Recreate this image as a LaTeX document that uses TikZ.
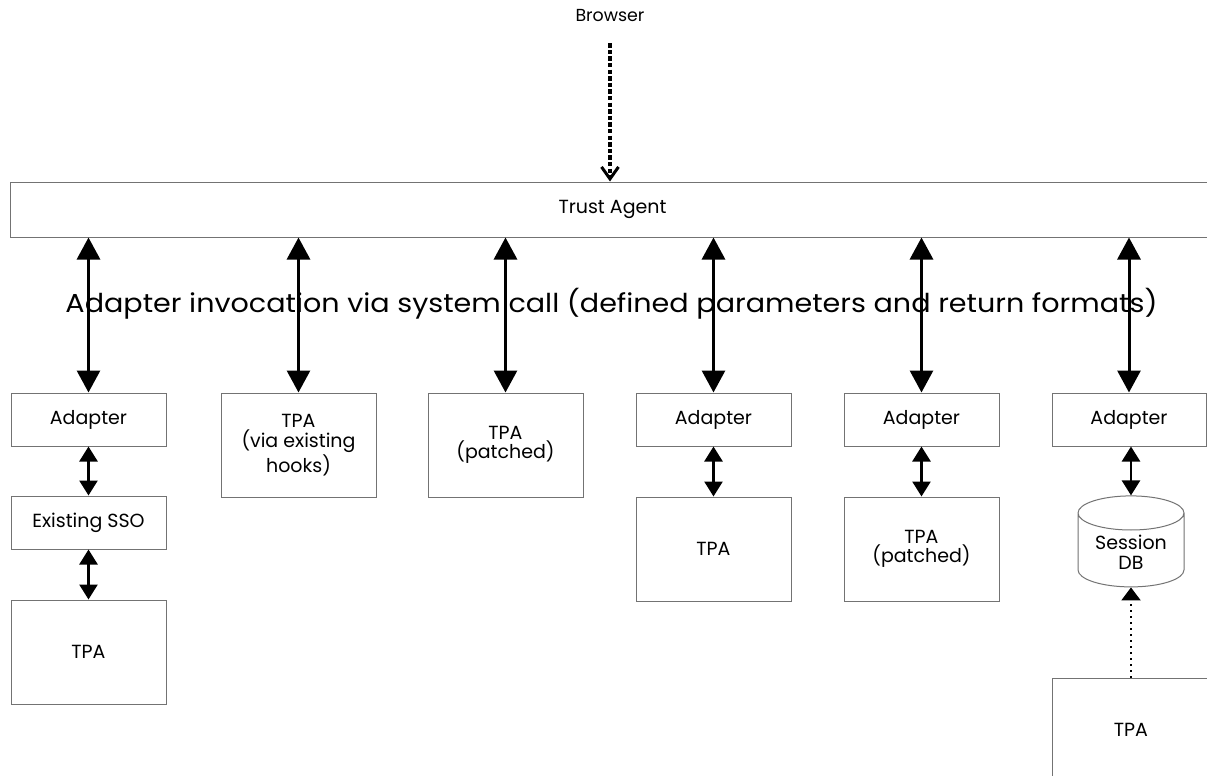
\documentclass[tikz,border=0pt]{standalone}
\usepackage{fontspec}
\usepackage{graphicx}
\setmainfont{Poppins}
\usetikzlibrary{arrows.meta,shapes.geometric}
\tikzset{
  boxfont/.style={font=\fontsize{9.5}{9.8}\selectfont},
  box/.style={draw=black!55, line width=0.5pt, fill=white, minimum width=77.5pt, align=center, boxfont, inner sep=1pt},
  smallbox/.style={box, minimum height=26.5pt},
  tallbox/.style={box, minimum height=52pt},
  bigarrow/.style={line width=1.5pt, {Triangle[width=11.5pt,length=11pt]}-{Triangle[width=11.5pt,length=11pt]}},
  smallarrow/.style={line width=1.3pt, {Triangle[width=9pt,length=7.5pt]}-{Triangle[width=9pt,length=7.5pt]}},
  dotarrow/.style={line width=1pt, dash pattern=on 1pt off 2pt, -{Triangle[width=9.5pt,length=6.5pt]}},
  browserarrow/.style={line width=1.6pt, dash pattern=on 2.2pt off 1.1pt, -{Straight Barb[width=8.5pt,length=6pt,line width=1.5pt]}},
}
\begin{document}
\begin{tikzpicture}[x=0.5pt,y=-0.5pt]
\clip (0,0) rectangle (1207,776);
\fill[white] (0,0) rectangle (1207,776);
\node[font=\fontsize{8.7}{9.5}\selectfont] (browser) at (610,16) {Browser};
\node[draw=black!55, line width=0.5pt, minimum width=602.5pt, minimum height=27.5pt, boxfont] (trust) at (612.5,209.5) {Trust Agent};
\node[smallbox] (ad1) at (88.5,419.5) {Adapter};
\node[smallbox] (sso) at (88.5,522.5) {Existing SSO};
\node[tallbox] (tpa1) at (88.5,652) {TPA};
\node[tallbox] (hooks) at (298.5,445) {TPA\\(via existing\\hooks)};
\node[tallbox] (pat1) at (505.5,445) {TPA\\(patched)};
\node[smallbox] (ad3) at (713.5,419.5) {Adapter};
\node[tallbox] (tpa3) at (713.5,549) {TPA};
\node[smallbox] (ad4) at (921.5,419.5) {Adapter};
\node[tallbox] (pat2) at (921.5,549) {TPA\\(patched)};
\node[smallbox, minimum width=77pt] (ad6) at (1129,419.5) {Adapter};
\node[draw=black!55, line width=0.5pt, fill=white, cylinder, shape border rotate=90, aspect=0.45, minimum width=53pt, minimum height=45.5pt, align=center, boxfont, inner sep=1pt] (db) at (1131,552.5) {Session\\DB};
\node[tallbox, minimum width=79pt] (tpa6) at (1131,730) {TPA};
\draw[browserarrow] (browser.south) ++(0,14) -- (trust.north -| browser.south);
\foreach \n in {ad1,hooks,pat1,ad3,ad4,ad6}
  \draw[bigarrow] (trust.south -| \n.north) -- (\n.north);
\node[font=\fontsize{13}{14}\selectfont] (label) at (611.5,304) {\scalebox{1.1}[1]{Adapter invocation via system call (defined parameters and return formats)}};
\draw[smallarrow] (ad1.south) -- (sso.north);
\draw[smallarrow] (sso.south) -- (tpa1.north);
\draw[smallarrow] (ad3.south) -- (tpa3.north);
\draw[smallarrow] (ad4.south) -- (pat2.north);
\draw[smallarrow] (ad6.south -| db.top) -- (db.top);
\draw[dotarrow] (tpa6.north) -- (db.bottom);
\end{tikzpicture}
\end{document}
